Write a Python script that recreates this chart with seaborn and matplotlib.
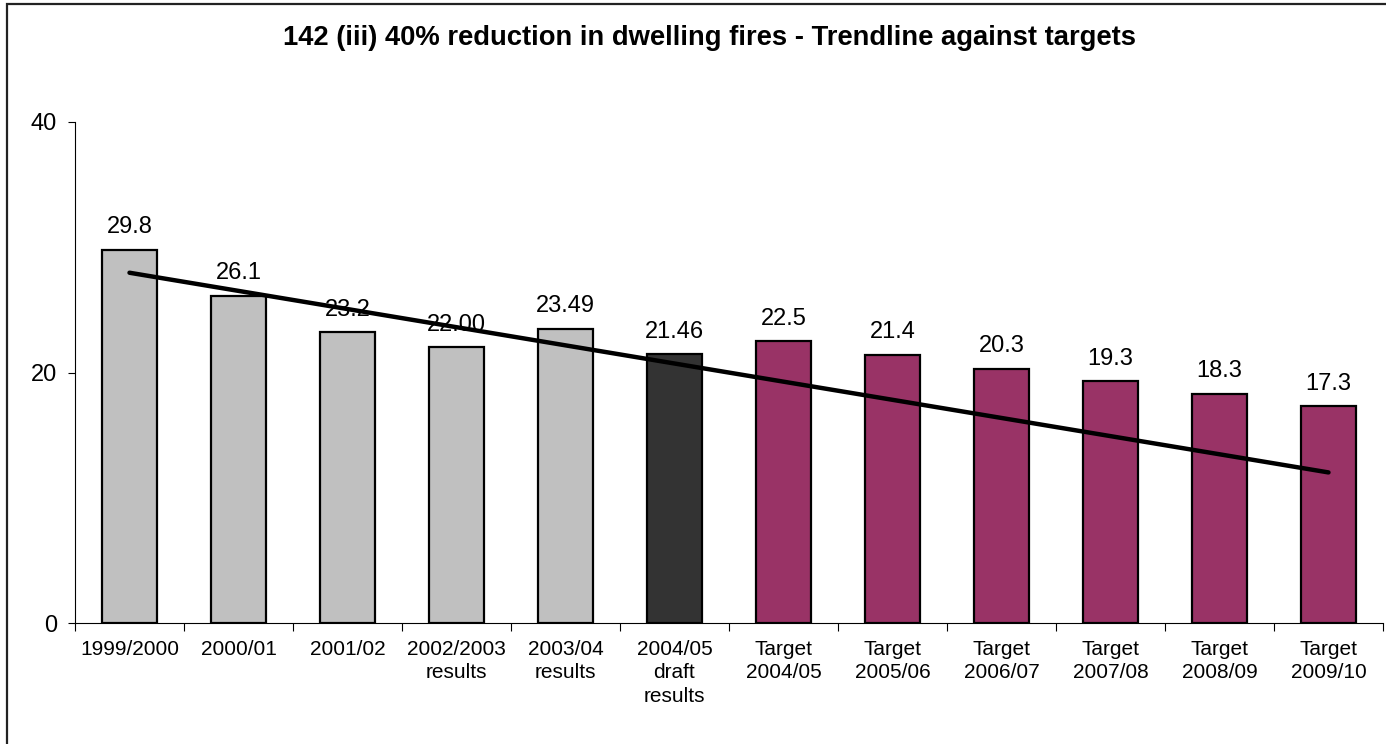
import numpy as np
import matplotlib
matplotlib.use('Agg')
import matplotlib.pyplot as plt
import seaborn as sns
from matplotlib.patches import Rectangle

# Data
categories = ['1999/2000', '2000/01', '2001/02', '2002/2003\nresults', '2003/04\nresults',
              '2004/05\ndraft\nresults', 'Target\n2004/05', 'Target\n2005/06', 'Target\n2006/07',
              'Target\n2007/08', 'Target\n2008/09', 'Target\n2009/10']
values = [29.8, 26.1, 23.2, 22.00, 23.49, 21.46, 22.5, 21.4, 20.3, 19.3, 18.3, 17.3]
value_labels = ['29.8', '26.1', '23.2', '22.00', '23.49', '21.46', '22.5', '21.4', '20.3',
                '19.3', '18.3', '17.3']
bar_colors = ['#C0C0C0'] * 5 + ['#333333'] + ['#993366'] * 6
n_actual = 6  # trendline fitted on the actual results, extended over the targets

sns.set_style('white')
plt.rcParams['font.family'] = ['Liberation Sans', 'DejaVu Sans']
plt.rcParams['text.color'] = 'black'
plt.rcParams['xtick.color'] = 'black'
plt.rcParams['ytick.color'] = 'black'

fig = plt.figure(figsize=(13.86, 7.44), dpi=100)
ax = fig.add_axes([75 / 1386, 1 - 623 / 744, (1383 - 75) / 1386, (623 - 122) / 744])

sns.barplot(x=categories, y=values, hue=categories, palette=bar_colors, legend=False,
            width=0.5, edgecolor='black', linewidth=1.6, saturation=1, ax=ax)

# value labels above the bars
for i, (v, lab) in enumerate(zip(values, value_labels)):
    ax.annotate(lab, (i, v), xytext=(0, 12), textcoords='offset points',
                ha='center', va='baseline', fontsize=17, color='black', zorder=3)

# linear trend of the actual results, projected to 2009/10
x = np.arange(len(values))
coef = np.polyfit(x[:n_actual], values[:n_actual], 1)
ax.plot(x, np.polyval(coef, x), color='black', linewidth=3.2, zorder=5)

ax.set_ylim(0, 40)
ax.set_xlim(-0.5, len(values) - 0.5)
ax.set_yticks([0, 20, 40])
ax.tick_params(axis='y', which='major', left=True, length=5, width=0.8, pad=8,
               labelsize=17)

# ticks at category boundaries, labels at category centres
ax.set_xticks(x, categories, minor=True)
ax.set_xticks(np.arange(-0.5, len(values), 1), [''] * (len(values) + 1))
ax.tick_params(axis='x', which='major', bottom=True, length=5.5, width=0.8)
ax.tick_params(axis='x', which='minor', bottom=True, length=0, pad=12, labelsize=15)
for t in ax.get_xticklabels(minor=True):
    t.set_linespacing(1.32)

sns.despine(ax=ax)
for side in ['left', 'bottom']:
    ax.spines[side].set_color('black')
    ax.spines[side].set_linewidth(0.8)
ax.set_xlabel('')
ax.set_ylabel('')

fig.text(0.512, 0.949, '142 (iii) 40% reduction in dwelling fires - Trendline against targets',
         ha='center', va='center', fontsize=19.7, fontweight='bold', color='black')

# outer chart frame (cut off on the right and bottom as in the source)
fig.patches.append(Rectangle((7 / 1386, -0.01), 1.1, 1 - 3.5 / 744 + 0.01,
                             transform=fig.transFigure, fill=False,
                             edgecolor='#222222', linewidth=1.6))

plt.savefig('out.png', dpi=100)
